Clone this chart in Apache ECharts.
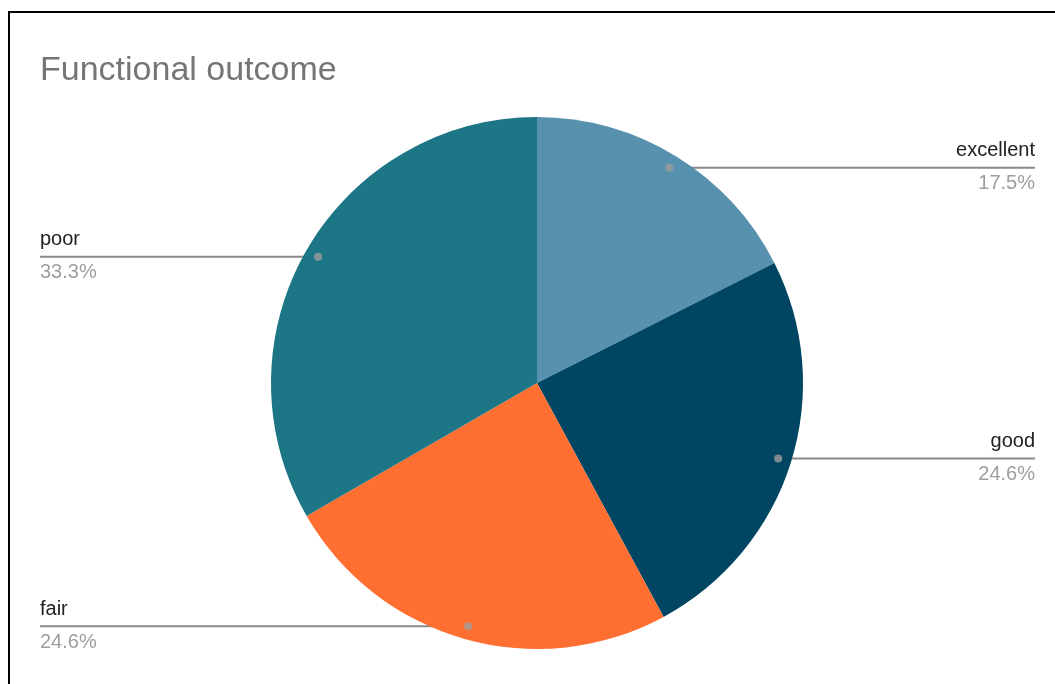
<!DOCTYPE html>
<html>
<head>
<meta charset="utf-8">
<script src="https://cdn.jsdelivr.net/npm/echarts@6/dist/echarts.min.js"></script>
<style>
  html, body { margin: 0; padding: 0; background: #fff; }
  #frame { position: absolute; left: 8px; top: 11px; width: 1200px; height: 800px;
           border-left: 2px solid #000; border-top: 2px solid #000; }
  #chart { position: absolute; left: 0; top: 0; width: 1055px; height: 684px; }
</style>
</head>
<body>
<div id="frame"></div>
<div id="chart"></div>
<script>
// data (counts, shown as percent of total)
const categories = ['excellent', 'good', 'fair', 'poor'];
const counts = [10, 14, 14, 19];
const colors = ['#5891ad', '#004561', '#ff6f31', '#1c7685'];

const total = counts.reduce((a, b) => a + b, 0);
const pct = counts.map(v => v / total * 100);
// middle of each slice, in percent of the full turn
const midPct = [];
let acc = 0;
pct.forEach(p => { midPct.push(acc + p / 2); acc += p; });

const CX = 537, CY = 383, R = 266, DOT = 0.95;
const LEFT_X = 40, RIGHT_X = 1035, MAX_LABEL_Y = 627;

const chart = echarts.init(document.getElementById('chart'));

const option = {
  animation: false,
  title: {
    text: 'Functional outcome',
    left: 40,
    top: 54,
    padding: 0,
    textStyle: { fontFamily: 'Liberation Sans', fontSize: 34, fontWeight: 'normal', color: '#757575' }
  },
  polar: { center: [CX, CY], radius: R },
  angleAxis: { type: 'value', min: 0, max: 100, startAngle: 90, show: false },
  radiusAxis: { type: 'value', min: 0, max: 1, show: false },
  series: [
    {
      type: 'pie',
      center: [CX, CY],
      radius: [0, R],
      startAngle: 90,
      clockwise: true,
      data: categories.map((c, i) => ({ name: c, value: counts[i], itemStyle: { color: colors[i] } })),
      label: {
        show: true,
        position: 'outside',
        formatter: p => '{n|' + p.name + '}\n{p|' + pct[p.dataIndex].toFixed(1) + '%}',
        rich: {
          n: { fontFamily: 'Liberation Sans', fontSize: 20, color: '#222', lineHeight: 28, padding: [0, 0, 10, 0] },
          p: { fontFamily: 'Liberation Sans', fontSize: 20, color: '#9e9e9e', lineHeight: 18, padding: [10, 0, 0, 0] }
        }
      },
      labelLine: { show: true, smooth: false, lineStyle: { color: '#8a8a8a', width: 2 } },
      labelLayout: function (params) {
        const a = midPct[params.dataIndex] / 100 * Math.PI * 2;
        const dx = CX + Math.sin(a) * R * DOT;
        const dy = CY - Math.cos(a) * R * DOT;
        const right = dx > CX;
        const y = Math.min(dy, MAX_LABEL_Y);
        const edge = right ? RIGHT_X : LEFT_X;
        return {
          x: edge,
          y: y - 3,
          align: right ? 'right' : 'left',
          verticalAlign: 'middle',
          labelLinePoints: [[dx, dy], [right ? dx + 200 : dx - 200, y], [edge, y]]
        };
      }
    },
    {
      type: 'scatter',
      coordinateSystem: 'polar',
      symbolSize: 8,
      itemStyle: { color: '#9e9e9e' },
      z: 5,
      silent: true,
      data: midPct.map(m => [DOT, m])
    }
  ]
};

chart.setOption(option);
</script>
</body>
</html>
